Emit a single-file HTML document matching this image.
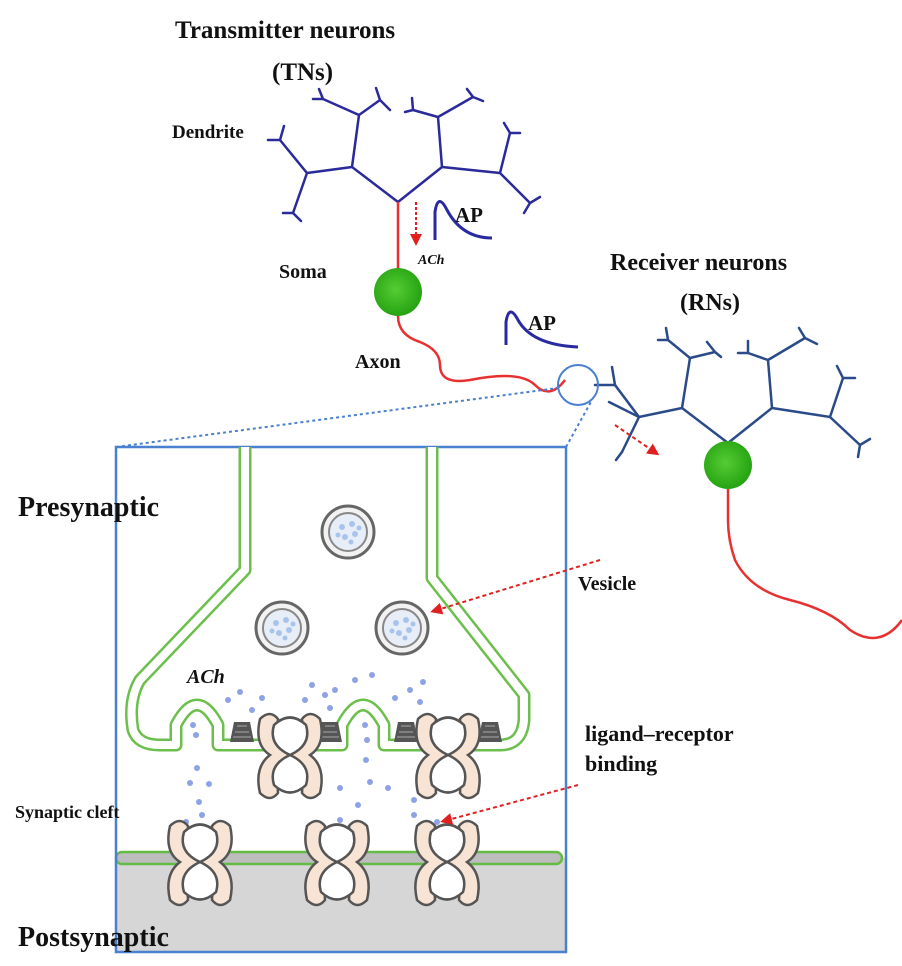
<!DOCTYPE html>
<html><head><meta charset="utf-8"><style>
body{margin:0;background:#fff}
svg text{font-family:"Liberation Serif",serif;font-weight:bold;fill:#111}
</style></head><body>
<svg width="902" height="961" viewBox="0 0 902 961" xmlns="http://www.w3.org/2000/svg">
<defs>
<radialGradient id="g" cx="0.45" cy="0.45" r="0.6"><stop offset="0" stop-color="#55cc33"/><stop offset="1" stop-color="#22a010"/></radialGradient>
<marker id="ar" markerWidth="6" markerHeight="6" refX="4" refY="3" orient="auto"><path d="M0,0 L6,3 L0,6z" fill="#e02020"/></marker>
<g id="rec">
<path d="M-30,-36 Q-36,-10 -20,0 Q-36,12 -30,38 Q-20,48 -12,38 Q-14,10 0,4 Q14,10 12,38 Q20,48 30,38 Q36,12 20,0 Q36,-10 30,-36 Q20,-46 12,-36 Q14,-10 0,-4 Q-14,-10 -12,-36 Q-20,-46 -30,-36z" fill="#f8e4d4" stroke="#555" stroke-width="2.5"/>
<path d="M-16,-30 Q0,-45 16,-30 Q22,-10 0,0 Q-22,-10 -16,-30z" fill="#fff" stroke="#555" stroke-width="2.5"/>
<path d="M-16,30 Q0,45 16,30 Q22,10 0,0 Q-22,10 -16,30z" fill="#fff" stroke="#555" stroke-width="2.5"/>
</g>
<g id="ves"><circle r="26" fill="#f2f2f2" stroke="#666" stroke-width="3"/><circle r="19" fill="#e8eef8" stroke="#888" stroke-width="2"/>
<g fill="#a8c4ec"><circle cx="-6" cy="-5" r="3"/><circle cx="4" cy="-8" r="3"/><circle cx="7" cy="2" r="3"/><circle cx="-3" cy="5" r="3"/><circle cx="-10" cy="3" r="2.5"/><circle cx="3" cy="10" r="2.5"/><circle cx="11" cy="-4" r="2.5"/></g></g>
<g id="ch"><path d="M-8,-10 H8 L12,10 H-12z" fill="#555"/><path d="M-5,-6 H5 M-7,0 H7 M-9,5 H9" stroke="#999" stroke-width="1.2"/></g>
</defs>

<g stroke="#2a2a9a" stroke-width="2.5" fill="none" stroke-linecap="round">
<path d="M398,202 L352,167 L359,115 L323,99 M359,115 L380,100 M352,167 L307,173 L280,140 M307,173 L293,213 M398,202 L442,167 L438,117 L413,110 M438,117 L473,97 M442,167 L500,173 L510,133 M500,173 L530,203"/>
<path d="M323,99 l-10,0 M323,99 l-4,-10 M380,100 l-4,-12 M380,100 l10,10 M413,110 l-8,2 M413,110 l-1,-12 M473,97 l10,4 M473,97 l-6,-8 M280,140 l-12,0 M280,140 l4,-14 M293,213 l-10,0 M293,213 l8,8 M510,133 l10,0 M510,133 l-6,-10 M530,203 l-6,10 M530,203 l10,-6"/>
</g>
<line x1="398" y1="202" x2="398" y2="270" stroke="#e83030" stroke-width="2.5"/>
<line x1="416" y1="202" x2="416" y2="242" stroke="#e02020" stroke-width="2" stroke-dasharray="3,2" marker-end="url(#ar)"/>
<circle cx="398" cy="292" r="24" fill="url(#g)"/>
<path d="M398,316 Q398,335 420,342 Q440,350 440,365 Q440,385 470,380 Q520,370 535,385 Q550,400 565,380" stroke="#e83030" stroke-width="2.5" fill="none"/>
<path d="M435,240 V212 Q438,192 447,210 Q462,238 492,238" stroke="#2a2aa0" stroke-width="3" fill="none"/>
<path d="M506,345 V322 Q509,303 518,320 Q532,345 578,347" stroke="#2a2aa0" stroke-width="3" fill="none"/>

<g stroke="#2a4a8a" stroke-width="2.5" fill="none" stroke-linecap="round">
<path d="M728,443 L682,408 L690,358 L668,340 M690,358 L715,352 M682,408 L639,417 L615,385 M639,417 L622,452 M728,443 L772,408 L768,360 L748,353 M768,360 L805,338 M772,408 L830,417 L843,378 M830,417 L860,445"/>
<path d="M668,340 l-10,0 M668,340 l-2,-12 M715,352 l-8,-10 M715,352 l6,5 M748,353 l-10,0 M748,353 l0,-12 M805,338 l-6,-10 M805,338 l12,6 M843,378 l12,0 M843,378 l-6,-12 M860,445 l-2,12 M860,445 l10,-6 M615,385 l-20,0 M615,385 l-3,-18 M622,452 l-6,8 M639,417 l-30,-15"/>
</g>
<circle cx="728" cy="465" r="24" fill="url(#g)"/>
<path d="M728,489 V520 Q728,540 735,560 Q750,590 790,600 Q830,610 850,630 Q880,650 902,620" stroke="#e83030" stroke-width="2.5" fill="none"/>
<line x1="615" y1="425" x2="656" y2="453" stroke="#e02020" stroke-width="2" stroke-dasharray="4,3" marker-end="url(#ar)"/>

<circle cx="578" cy="385" r="20" fill="none" stroke="#4a80d0" stroke-width="2"/>
<path d="M116,447 L558,388 M566,447 L592,400" stroke="#4a80d0" stroke-width="2" stroke-dasharray="3,3"/>
<rect x="116" y="858" width="450" height="94" fill="#d6d6d6"/>
<rect x="116" y="852" width="446" height="12" rx="6" fill="#bdbdbd" stroke="#66bb44" stroke-width="2.5"/>
<rect x="116" y="447" width="450" height="505" fill="none" stroke="#4a80d0" stroke-width="2.5"/>

<path d="M245,447 V570 L140,680 Q128,700 133,730 Q138,745 160,745 H176 V725 Q197,685 218,725 V745 H342 V725 Q363,685 384,725 V745 H500 Q522,745 524,720 V695 L432,578 V447" fill="none" stroke="#6cbf4c" stroke-width="13" stroke-linejoin="round"/>
<path d="M245,447 V570 L140,680 Q128,700 133,730 Q138,745 160,745 H176 V725 Q197,685 218,725 V745 H342 V725 Q363,685 384,725 V745 H500 Q522,745 524,720 V695 L432,578 V447" fill="none" stroke="#fff" stroke-width="8" stroke-linejoin="round"/>

<use href="#ves" x="348" y="532"/><use href="#ves" x="282" y="628"/><use href="#ves" x="402" y="628"/>
<use href="#ch" x="242" y="732"/><use href="#ch" x="330" y="732"/><use href="#ch" x="406" y="732"/><use href="#ch" x="490" y="732"/>

<g fill="#8ea2e6">
<circle cx="228" cy="700" r="3"/><circle cx="240" cy="692" r="3"/><circle cx="252" cy="710" r="3"/><circle cx="262" cy="698" r="3"/><circle cx="268" cy="718" r="3"/><circle cx="305" cy="700" r="3"/><circle cx="312" cy="685" r="3"/><circle cx="325" cy="695" r="3"/><circle cx="330" cy="708" r="3"/><circle cx="335" cy="690" r="3"/><circle cx="355" cy="680" r="3"/><circle cx="372" cy="675" r="3"/><circle cx="395" cy="698" r="3"/><circle cx="410" cy="690" r="3"/><circle cx="420" cy="702" r="3"/><circle cx="423" cy="682" r="3"/>
<circle cx="193" cy="725" r="3"/><circle cx="196" cy="735" r="3"/><circle cx="197" cy="768" r="3"/><circle cx="190" cy="783" r="3"/><circle cx="209" cy="784" r="3"/><circle cx="199" cy="802" r="3"/><circle cx="202" cy="815" r="3"/><circle cx="186" cy="822" r="3"/>
<circle cx="365" cy="725" r="3"/><circle cx="367" cy="740" r="3"/><circle cx="366" cy="760" r="3"/><circle cx="370" cy="782" r="3"/><circle cx="388" cy="788" r="3"/><circle cx="340" cy="788" r="3"/><circle cx="358" cy="805" r="3"/><circle cx="340" cy="820" r="3"/><circle cx="414" cy="800" r="3"/><circle cx="414" cy="815" r="3"/><circle cx="437" cy="822" r="3"/>
</g>

<use href="#rec" x="290" y="755"/><use href="#rec" x="448" y="755"/>
<use href="#rec" x="200" y="862"/><use href="#rec" x="337" y="862"/><use href="#rec" x="447" y="862"/>

<line x1="600" y1="560" x2="434" y2="611" stroke="#e02020" stroke-width="2" stroke-dasharray="4,3" marker-end="url(#ar)"/>
<line x1="578" y1="785" x2="444" y2="821" stroke="#e02020" stroke-width="2" stroke-dasharray="4,3" marker-end="url(#ar)"/>

<text x="175" y="38" font-size="25">Transmitter neurons</text>
<text x="272" y="80" font-size="25">(TNs)</text>
<text x="172" y="138" font-size="19">Dendrite</text>
<text x="455" y="222" font-size="21">AP</text>
<text x="418" y="264" font-size="14" font-style="italic">ACh</text>
<text x="279" y="278" font-size="20">Soma</text>
<text x="355" y="368" font-size="20">Axon</text>
<text x="528" y="330" font-size="21">AP</text>
<text x="610" y="270" font-size="24">Receiver neurons</text>
<text x="680" y="310" font-size="24">(RNs)</text>
<text x="18" y="516" font-size="28">Presynaptic</text>
<text x="578" y="590" font-size="20">Vesicle</text>
<text x="187" y="683" font-size="20" font-style="italic">ACh</text>
<text x="585" y="741" font-size="22">ligand–receptor</text>
<text x="585" y="771" font-size="22">binding</text>
<text x="15" y="818" font-size="18">Synaptic cleft</text>
<text x="18" y="946" font-size="28">Postsynaptic</text>
</svg>
</body></html>
